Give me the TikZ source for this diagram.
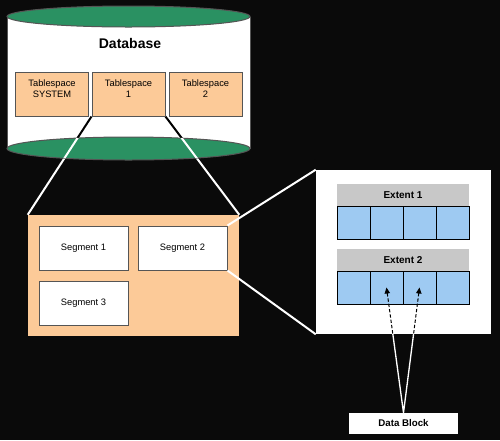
\documentclass[tikz,border=0pt]{standalone}
\usepackage{fontspec}
\setmainfont{Liberation Sans}
\usetikzlibrary{arrows.meta}
\definecolor{dbgreen}{RGB}{42,145,98}
\definecolor{peach}{RGB}{252,202,152}
\definecolor{cellblue}{RGB}{158,202,242}
\definecolor{hdrgray}{RGB}{200,200,200}
\definecolor{rimgray}{RGB}{85,85,85}
\definecolor{bg}{RGB}{10,10,10}
\begin{document}
\begin{tikzpicture}[x=0.75pt,y=0.75pt,yscale=-1,xscale=1,
  tsbox/.style={draw=rimgray,fill=peach,line width=0.75,inner sep=0.75pt,align=center,
    minimum width=54.75pt,minimum height=33pt,font=\fontsize{7}{8.5}\selectfont},
  segbox/.style={draw=rimgray,fill=white,line width=0.75,inner sep=0.75pt,
    minimum width=66.75pt,minimum height=33pt,font=\fontsize{7}{8.5}\selectfont},
  hdr/.style={fill=hdrgray,inner sep=0.75pt,minimum width=99pt,minimum height=16.5pt,
    font=\bfseries\fontsize{7.5}{9}\selectfont},
  cell/.style={draw=black,fill=cellblue,line width=0.6,minimum width=24.75pt,minimum height=24.75pt,inner sep=0pt},
  zoomline/.style={draw=white,line width=1.5},
  blockline/.style={draw=black,line width=0.75,dash pattern={on 2.5pt off 1.5pt}}]
\useasboundingbox (0,0) rectangle (500,440);
\fill[bg] (0,0) rectangle (500,440);

%Shape: Cylinder body
\fill[white] (7,16.5) rectangle (250,148.5);
\draw[rimgray,line width=0.75] (7,16.5) -- (7,148.5) (250,16.5) -- (250,148.5);
\draw[rimgray,fill=dbgreen,line width=0.75] (128.5,16.5) ellipse [x radius=121.5,y radius=10.5];
% Text Node
\node[font=\bfseries\fontsize{10.5}{12}\selectfont] (db) at (130,43) {Database};

% Tablespaces
\node[tsbox] (ts0) at (52,94) {Tablespace\\SYSTEM\\\mbox{}};
\node[tsbox] (ts1) at (128.5,94) {Tablespace\\1\\\mbox{}};
\node[tsbox] (ts2) at (205.5,94) {Tablespace\\2\\\mbox{}};

% Segments
\node[fill=peach,minimum width=158.25pt,minimum height=90.75pt,inner sep=0pt] (seg) at (133.5,275.5) {};
\node[segbox] (s1) at (83.5,248) {Segment 1};
\node[segbox] (s2) at (182.5,248) {Segment 2};
\node[segbox] (s3) at (83.5,303) {Segment 3};

%Straight Lines: tablespace 1 to segments
\draw[zoomline] (ts1.south west) -- (seg.north west) (ts1.south east) -- (seg.north east);
\begin{scope}
\clip (7,16.5) rectangle (250,148.5);
\draw[black,line width=1.5] (ts1.south west) -- (seg.north west) (ts1.south east) -- (seg.north east);
\end{scope}
\draw[rimgray,fill=dbgreen,line width=0.75] (128.5,148.5) ellipse [x radius=121.5,y radius=11.5];
\begin{scope}
\clip (128.5,148.5) ellipse [x radius=121.5,y radius=11.5];
\draw[zoomline] (ts1.south west) -- (seg.north west) (ts1.south east) -- (seg.north east);
\end{scope}

% Extents
\node[fill=white,minimum width=131.25pt,minimum height=123pt,inner sep=0pt] (ext) at (403.5,252) {};
\node[hdr] (h1) at (403,195) {Extent 1};
\node[hdr] (h2) at (403,260) {Extent 2};
\foreach \i in {0,...,3} {
  \node[cell] (ea\i) at ({353.5+33*\i},222.5) {};
  \node[cell] (eb\i) at ({353.5+33*\i},287.5) {};
}

%Straight Lines: segment 2 to extents
\draw[zoomline] (s2.north east) -- (ext.north west) (s2.south east) -- (ext.south west);

% Data Block
\node[fill=white,minimum width=81.75pt,minimum height=15.75pt,inner sep=0pt,
  font=\bfseries\fontsize{7.3}{9}\selectfont] (blk) at (403.5,423.5) {Data Block};
\draw[blockline,-{Triangle[width=4pt,length=4.5pt]}] (blk.north) -- (eb1.center);
\draw[blockline,-{Triangle[width=4pt,length=4.5pt]}] (blk.north) -- (eb2.center);
\begin{scope}
\clip (ext.south west) rectangle (blk.north east);
\draw[white,line width=1] (blk.north) -- (eb1.center) (blk.north) -- (eb2.center);
\end{scope}

\end{tikzpicture}
\end{document}
